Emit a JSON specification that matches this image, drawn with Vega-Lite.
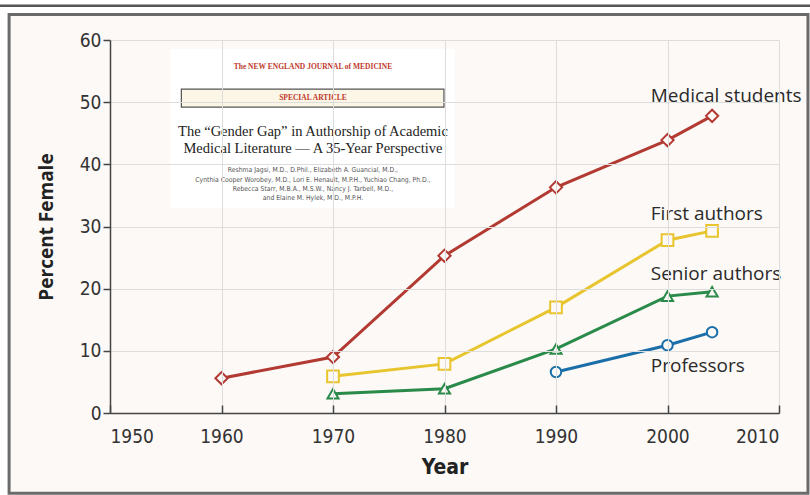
{
  "$schema": "https://vega.github.io/schema/vega-lite/v6.json",
  "autosize": "none",
  "width": 669,
  "height": 373,
  "padding": {"left": 110, "top": 40, "right": 31, "bottom": 82},
  "background": "#ffffff",
  "config": {"view": {"stroke": null}, "font": "Open Sans"},
  "datasets": {
    "series": [
      {"year": 1960, "pct": 5.6, "group": "Medical students"},
      {"year": 1970, "pct": 9.0, "group": "Medical students"},
      {"year": 1980, "pct": 25.3, "group": "Medical students"},
      {"year": 1990, "pct": 36.3, "group": "Medical students"},
      {"year": 2000, "pct": 43.9, "group": "Medical students"},
      {"year": 2004, "pct": 47.8, "group": "Medical students"},
      {"year": 1970, "pct": 5.9, "group": "First authors"},
      {"year": 1980, "pct": 7.9, "group": "First authors"},
      {"year": 1990, "pct": 17.0, "group": "First authors"},
      {"year": 2000, "pct": 27.8, "group": "First authors"},
      {"year": 2004, "pct": 29.3, "group": "First authors"},
      {"year": 1970, "pct": 3.1, "group": "Senior authors"},
      {"year": 1980, "pct": 3.9, "group": "Senior authors"},
      {"year": 1990, "pct": 10.3, "group": "Senior authors"},
      {"year": 2000, "pct": 18.8, "group": "Senior authors"},
      {"year": 2004, "pct": 19.5, "group": "Senior authors"},
      {"year": 1990, "pct": 6.6, "group": "Professors"},
      {"year": 2000, "pct": 10.9, "group": "Professors"},
      {"year": 2004, "pct": 13.0, "group": "Professors"}
    ],
    "labels": [
      {"year": 1998.5, "pct": 51.0, "group": "Medical students"},
      {"year": 1998.5, "pct": 32.0, "group": "First authors"},
      {"year": 1998.5, "pct": 22.4, "group": "Senior authors"},
      {"year": 1998.5, "pct": 7.5, "group": "Professors"}
    ],
    "frame": [{"x1": 1940.95, "x2": 2012.6, "y1": 64.1, "y2": -12.9}],
    "topline": [{"x1": 1940.1, "x2": 2012.8, "y": 65.5}],
    "inset": [{"x1": 1955.4, "x2": 1980.9, "y1": 58.55, "y2": 32.97}],
    "special": [{"x1": 1956.4, "x2": 1979.95, "y1": 52.1, "y2": 49.2}],
    "insetText": [
      {"x": 1968.2, "y": 55.65, "text": "The NEW ENGLAND JOURNAL of MEDICINE", "kind": "head"},
      {"x": 1968.2, "y": 50.65, "text": "SPECIAL ARTICLE", "kind": "special"},
      {"x": 1968.2, "y": 45.2, "text": "The “Gender Gap” in Authorship of Academic", "kind": "title"},
      {"x": 1968.2, "y": 42.5, "text": "Medical Literature — A 35-Year Perspective", "kind": "title"},
      {"x": 1968.2, "y": 39.1, "text": "Reshma Jagsi, M.D., D.Phil., Elizabeth A. Guancial, M.D.,", "kind": "author"},
      {"x": 1968.2, "y": 37.55, "text": "Cynthia Cooper Worobey, M.D., Lori E. Henault, M.P.H., Yuchiao Chang, Ph.D.,", "kind": "author"},
      {"x": 1968.2, "y": 36.05, "text": "Rebecca Starr, M.B.A., M.S.W., Nancy J. Tarbell, M.D.,", "kind": "author"},
      {"x": 1968.2, "y": 34.6, "text": "and Elaine M. Hylek, M.D., M.P.H.", "kind": "author"}
    ]
  },
  "layer": [
    {
      "data": {"name": "topline"},
      "mark": {"type": "rule", "color": "#555555", "strokeWidth": 2.5, "clip": false},
      "encoding": {
        "x": {"field": "x1", "type": "quantitative", "scale": {"domain": [1950, 2010], "nice": false, "zero": false}},
        "x2": {"field": "x2"},
        "y": {"field": "y", "type": "quantitative", "scale": {"domain": [0, 60], "nice": false}}
      }
    },
    {
      "data": {"name": "frame"},
      "mark": {"type": "rect", "fill": "#fcf9f6", "stroke": "#6a6a6a", "strokeWidth": 3, "clip": false},
      "encoding": {
        "x": {"field": "x1", "type": "quantitative"},
        "x2": {"field": "x2"},
        "y": {"field": "y1", "type": "quantitative"},
        "y2": {"field": "y2"}
      }
    },
    {
      "data": {"name": "inset"},
      "mark": {"type": "rect", "fill": "#ffffff", "clip": false},
      "encoding": {
        "x": {"field": "x1", "type": "quantitative"},
        "x2": {"field": "x2"},
        "y": {"field": "y1", "type": "quantitative"},
        "y2": {"field": "y2"}
      }
    },
    {
      "data": {"name": "special"},
      "mark": {"type": "rect", "fill": "#fbf6e6", "stroke": "#555555", "strokeWidth": 1.2},
      "encoding": {
        "x": {"field": "x1", "type": "quantitative"},
        "x2": {"field": "x2"},
        "y": {"field": "y1", "type": "quantitative"},
        "y2": {"field": "y2"}
      }
    },
    {
      "data": {"name": "insetText"},
      "transform": [{"filter": "datum.kind === 'head' || datum.kind === 'special'"}],
      "mark": {"type": "text", "font": "Liberation Serif", "fontWeight": "bold", "fontSize": 7.5, "color": "#c0392b", "align": "center", "baseline": "middle"},
      "encoding": {
        "x": {"field": "x", "type": "quantitative"},
        "y": {"field": "y", "type": "quantitative"},
        "text": {"field": "text"}
      }
    },
    {
      "data": {"name": "insetText"},
      "transform": [{"filter": "datum.kind === 'title'"}],
      "mark": {"type": "text", "font": "Liberation Serif", "fontSize": 14.5, "color": "#222222", "align": "center", "baseline": "middle"},
      "encoding": {
        "x": {"field": "x", "type": "quantitative"},
        "y": {"field": "y", "type": "quantitative"},
        "text": {"field": "text"}
      }
    },
    {
      "data": {"name": "insetText"},
      "transform": [{"filter": "datum.kind === 'author'"}],
      "mark": {"type": "text", "font": "DejaVu Sans Condensed, Roboto", "fontSize": 6.8, "color": "#555555", "align": "center", "baseline": "middle"},
      "encoding": {
        "x": {"field": "x", "type": "quantitative"},
        "y": {"field": "y", "type": "quantitative"},
        "text": {"field": "text"}
      }
    },
    {
      "data": {"name": "series"},
      "mark": {"type": "line", "strokeWidth": 3},
      "encoding": {
        "x": {"field": "year", "type": "quantitative",
          "axis": {"title": "Year", "values": [1950, 1960, 1970, 1980, 1990, 2000, 2010], "format": "d", "zindex": 1,
            "domainColor": "#444444", "domainWidth": 1.5, "tickColor": "#444444", "tickWidth": 1.5, "tickSize": -8,
            "labelFont": "DejaVu Sans Condensed, Lato", "labelFontSize": 19, "labelColor": "#333333", "labelPadding": 22,
            "titleFont": "DejaVu Sans Condensed, Lato", "titleFontSize": 21, "titleFontWeight": "bold", "titleColor": "#222222", "titlePadding": 10}},
        "y": {"field": "pct", "type": "quantitative",
          "axis": {"title": "Percent Female", "values": [0, 10, 20, 30, 40, 50, 60], "zindex": 1,
            "domainColor": "#444444", "domainWidth": 1.5, "tickColor": "#444444", "tickWidth": 1.5, "tickSize": 7,
            "labelFont": "DejaVu Sans Condensed, Lato", "labelFontSize": 19, "labelColor": "#333333", "labelPadding": 2,
            "titleFont": "Open Sans", "titleFontSize": 19, "titleFontWeight": "bold", "titleColor": "#222222", "titlePadding": 23}},
        "color": {"field": "group", "type": "nominal", "legend": null,
          "scale": {"domain": ["Medical students", "First authors", "Senior authors", "Professors"], "range": ["#b23a32", "#e8c52e", "#2a8a4a", "#1a6fa8"]}},
        "detail": {"field": "group"}
      }
    },
    {
      "data": {"name": "series"},
      "mark": {"type": "point", "filled": false, "fill": "#fcf9f6", "fillOpacity": 1, "strokeWidth": 2, "opacity": 1},
      "encoding": {
        "x": {"field": "year", "type": "quantitative"},
        "y": {"field": "pct", "type": "quantitative"},
        "color": {"field": "group", "type": "nominal", "legend": null},
        "shape": {"field": "group", "type": "nominal", "legend": null,
          "scale": {"domain": ["Medical students", "First authors", "Senior authors", "Professors"], "range": ["diamond", "square", "triangle-up", "circle"]}},
        "size": {"field": "group", "type": "nominal", "legend": null,
          "scale": {"domain": ["Medical students", "First authors", "Senior authors", "Professors"], "range": [150, 110, 110, 110]}}
      }
    },
    {
      "data": {"name": "labels"},
      "mark": {"type": "text", "font": "Open Sans", "fontSize": 19, "color": "#2a2a2a", "align": "left", "baseline": "middle", "clip": false},
      "encoding": {
        "x": {"field": "year", "type": "quantitative"},
        "y": {"field": "pct", "type": "quantitative"},
        "text": {"field": "group"}
      }
    }
  ]
}
